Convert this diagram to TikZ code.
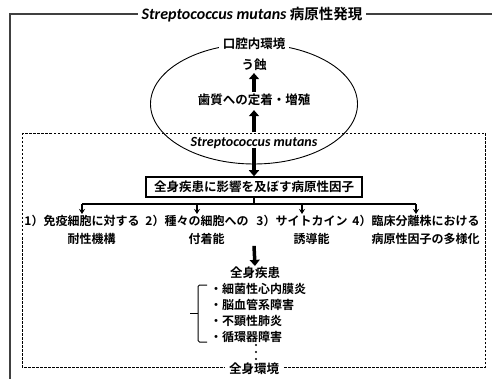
\documentclass[tikz,border=0pt]{standalone}
\usepackage{fontspec}
\setmainfont{Noto Sans CJK JP}[UprightFont=* Bold]
\newfontfamily\latin{Carlito}[BoldItalicFont=* Bold Italic]
\usetikzlibrary{shapes.geometric,arrows.meta}

\begin{document}
\begin{tikzpicture}[x=1pt,y=-1pt]
\tikzset{jp/.style={font=\fontsize{12.5}{15}\selectfont, inner sep=1pt},
  lat/.style={font=\latin\bfseries\itshape\fontsize{14}{15}\selectfont, inner sep=1pt},
  etiq/.style={jp, fill=white, inner xsep=4pt},
  grosse/.style={line width=3.5pt, -{Triangle[length=6pt,width=10pt]}},
  petite/.style={line width=1.2pt, -{Stealth[length=5pt,width=6pt]}}}
\useasboundingbox (0,0) rectangle (492,379);
% cadre global
\draw[line width=1.3pt, black!75] (492,14) -- (10,14) -- (10,379);
\node[etiq, font=\fontsize{14.5}{16}\selectfont] (titre) at (252,15) {{\latin\bfseries\itshape\fontsize{16}{16}\selectfont Streptococcus mutans} 病原性発現};
\draw[dash pattern=on 2.5pt off 1.5pt, line width=0.8pt] (22,133) rectangle (485,367);
\node[etiq, inner ysep=0pt] (corps) at (254,369) {全身環境};
% milieu buccal
\node[draw, ellipse, line width=0.9pt, minimum width=207pt, minimum height=120pt] (bouche) at (254,104) {};
\node[etiq] (boucheenv) at (bouche.north) {口腔内環境};
\node[jp] (carie) at (254,65) {う蝕};
\node[jp] (fixation) at (254,100) {歯質への定着・増殖};
\node[lat] (smut) at (254,143) {Streptococcus mutans};
\draw[grosse, shorten <=1pt, shorten >=1pt] (fixation) -- (carie);
\draw[grosse, shorten <=4pt, shorten >=3pt] (smut) -- (fixation);
% facteurs
\node[jp, draw, line width=1.5pt, minimum width=216pt, minimum height=20pt] (facteur) at (254,187) {全身疾患に影響を及ぼす病原性因子};
\draw[grosse] ([yshift=2pt]smut.south) -- (facteur.north);
\node[jp, align=center, anchor=north, font=\fontsize{12}{18}\selectfont] (f1) at (82,214) {1）免疫細胞に対する\\\phantom{1）}耐性機構};
\node[jp, align=center, anchor=north, font=\fontsize{12}{18}\selectfont] (f2) at (197,214) {2）種々の細胞への\\\phantom{2）}付着能};
\node[jp, align=center, anchor=north, font=\fontsize{12}{18}\selectfont] (f3) at (302,214) {3）サイトカイン\\\phantom{3）}誘導能};
\node[jp, align=center, anchor=north, font=\fontsize{12}{18}\selectfont] (f4) at (416,214) {4）臨床分離株における\\\phantom{4）}病原性因子の多様化};
\coordinate (bus) at (254,204);
\draw[line width=1.2pt] (facteur.south) -- (bus);
\draw[line width=1.2pt] (f1.north |- bus) -- (f4.north |- bus);
\draw[petite] (f1.north |- bus) -- (f1.north);
\draw[petite] (f2.north |- bus) -- (f2.north);
\draw[petite] (f3.north |- bus) -- (f3.north);
\draw[petite] (f4.north |- bus) -- (f4.north);
% maladies
\node[jp] (maladie) at (255,273) {全身疾患};
\draw[grosse] (facteur |- f1.south) -- (maladie.north);
\node[jp, align=left, anchor=west, font=\fontsize{12}{16}\selectfont] (liste) at (209,313) {・細菌性心内膜炎\\・脳血管系障害\\・不顕性肺炎\\・循環器障害};
\draw[line width=1pt, rounded corners=1.5pt] (207,285) -- (198,285) -- (198,342) -- (207,342);
\draw[line width=1pt] (198,313) -- (190,313);
\foreach \y in {345,352,359} \fill (256,\y) circle (1.1pt);
\end{tikzpicture}
\end{document}
